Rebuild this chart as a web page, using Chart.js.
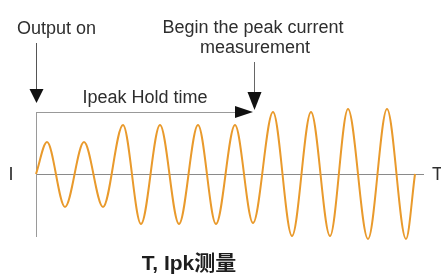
<!DOCTYPE html>
<html>
<head>
<meta charset="utf-8">
<script src="https://cdn.jsdelivr.net/npm/chart.js@4/dist/chart.umd.min.js"></script>
<style>
html,body{margin:0;padding:0;background:#ffffff;}
#wrap{width:441px;height:275px;position:relative;}
</style>
</head>
<body>
<div id="wrap"><canvas id="c" width="441" height="275"></canvas></div>
<script>
// Samples: zero start, then peak / trough of each cycle, zero end
const sampleTimes    = [0, 11, 29, 48, 67, 87, 105, 124, 143, 162, 180, 199, 217, 237, 256, 275, 294, 312, 332, 351, 370, 379];
const sampleCurrents = [0, 32, -33, 32, -33, 49, -50, 49, -50, 49, -50, 49, -49, 62, -62, 62, -62, 65, -65, 65, -65, 0];

const timeRange    = [0, 389];
const currentRange = [-63, 62];

const eventTimes  = [0, 218];
const eventLabels = [['Output on'], ['Begin the peak current', 'measurement']];
const holdLabel   = 'Ipeak Hold time';
const axisLabels  = ['I', 'T'];
const chartTitle  = 'T, Ipk测量';

const points = sampleTimes.map((t, i) => ({x: t, y: sampleCurrents[i]}));

function arrowHead(ctx, tx, ty, dx, dy, len, half) {
  const bx = tx - dx * len, by = ty - dy * len;
  const nx = -dy, ny = dx;
  ctx.beginPath();
  ctx.moveTo(tx, ty);
  ctx.lineTo(bx + nx * half, by + ny * half);
  ctx.lineTo(bx - nx * half, by - ny * half);
  ctx.closePath();
  ctx.fill();
}

const overlay = {
  id: 'overlay',
  beforeDatasetsDraw(chart) {
    const ctx = chart.ctx, xs = chart.scales.x, ys = chart.scales.y;
    const x0 = xs.getPixelForValue(timeRange[0]);
    const x1 = xs.getPixelForValue(timeRange[1]);
    const y0 = ys.getPixelForValue(0);
    ctx.save();
    ctx.lineWidth = 1;
    // horizontal (time) axis
    ctx.strokeStyle = '#8a8a8a';
    ctx.beginPath(); ctx.moveTo(x0, y0 + 0.5); ctx.lineTo(x1 - 1, y0 + 0.5); ctx.stroke();
    // vertical (current) axis
    ctx.strokeStyle = '#9a9a9a';
    ctx.beginPath();
    ctx.moveTo(x0 + 0.5, chart.chartArea.top);
    ctx.lineTo(x0 + 0.5, chart.chartArea.bottom);
    ctx.stroke();
    ctx.restore();
  },
  afterDraw(chart) {
    const ctx = chart.ctx, xs = chart.scales.x, ys = chart.scales.y;
    const ca = chart.chartArea;
    const y0 = ys.getPixelForValue(0);
    const ex0 = xs.getPixelForValue(eventTimes[0]);
    const ex1 = xs.getPixelForValue(eventTimes[1]);
    ctx.save();
    ctx.fillStyle = '#2e2e2e';
    ctx.font = '18px "Liberation Sans", Arial, sans-serif';
    ctx.textBaseline = 'alphabetic';

    // "Output on"
    ctx.textAlign = 'left';
    ctx.fillText(eventLabels[0][0], ex0 - 19, 34);
    // "Begin the peak current measurement"
    ctx.textAlign = 'center';
    ctx.fillText(eventLabels[1][0], ex1 - 1, 33);
    ctx.fillText(eventLabels[1][1], ex1 + 1, 53);
    // hold time
    ctx.fillText(holdLabel, (ex0 + ex1) / 2, 103);
    // axis letters
    ctx.textAlign = 'center';
    ctx.fillText(axisLabels[0], 11, y0 + 6);
    ctx.textAlign = 'left';
    ctx.fillText(axisLabels[1], 432, y0 + 6);

    // arrows
    ctx.lineWidth = 1;
    ctx.strokeStyle = '#555555';
    ctx.beginPath(); ctx.moveTo(ex0 + 0.5, 43); ctx.lineTo(ex0 + 0.5, 92); ctx.stroke();
    ctx.fillStyle = '#111111';
    arrowHead(ctx, ex0 + 0.5, 103, 0, 1, 14, 7);

    ctx.strokeStyle = '#666666';
    ctx.beginPath(); ctx.moveTo(ex1 + 0.5, 62); ctx.lineTo(ex1 + 0.5, 95); ctx.stroke();
    arrowHead(ctx, ex1 + 0.5, 110, 0, 1, 18, 7);

    ctx.strokeStyle = '#999999';
    ctx.beginPath(); ctx.moveTo(ex0, ca.top + 0.5); ctx.lineTo(ex1 - 16, ca.top + 0.5); ctx.stroke();
    arrowHead(ctx, ex1 - 1, ca.top, 1, 0, 18, 6);

    // title
    ctx.fillStyle = '#1e1e1e';
    ctx.font = 'bold 21px "Liberation Sans", Arial, "Noto Sans CJK SC", sans-serif';
    ctx.textAlign = 'center';
    ctx.fillText(chartTitle, 189, 270);
    ctx.restore();
  }
};

new Chart(document.getElementById('c'), {
  type: 'line',
  data: {
    datasets: [{
      data: points,
      borderColor: '#E99A2C',
      borderWidth: 2,
      pointRadius: 0,
      fill: false,
      cubicInterpolationMode: 'monotone',
      clip: false
    }]
  },
  options: {
    responsive: false,
    animation: false,
    devicePixelRatio: 1,
    layout: {padding: {left: 36, right: 16, top: 112, bottom: 38}},
    plugins: {legend: {display: false}, tooltip: {enabled: false}, title: {display: false}},
    scales: {
      x: {type: 'linear', min: timeRange[0], max: timeRange[1], display: false},
      y: {type: 'linear', min: currentRange[0], max: currentRange[1], display: false}
    }
  },
  plugins: [overlay]
});
</script>
</body>
</html>
